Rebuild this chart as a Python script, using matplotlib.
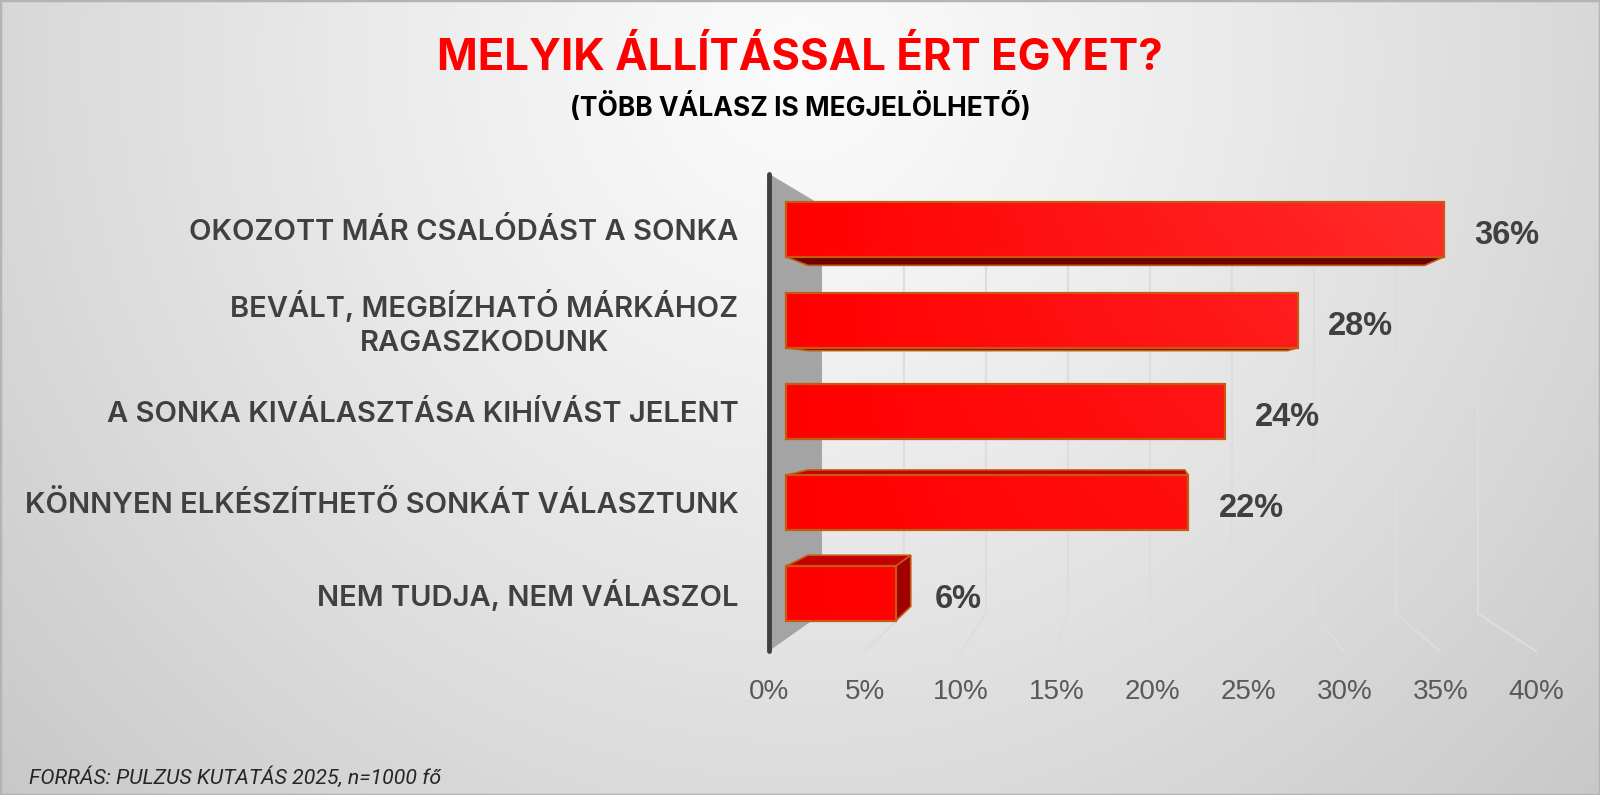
import matplotlib.pyplot as plt
import numpy as np
from matplotlib.patches import Polygon, Rectangle

# data
categories = ['OKOZOTT MÁR CSALÓDÁST A SONKA',
              'BEVÁLT, MEGBÍZHATÓ MÁRKÁHOZ\nRAGASZKODUNK',
              'A SONKA KIVÁLASZTÁSA KIHÍVÁST JELENT',
              'KÖNNYEN ELKÉSZÍTHETŐ SONKÁT VÁLASZTUNK',
              'NEM TUDJA, NEM VÁLASZOL']
values = [36, 28, 24, 22, 6]
ticks = [0, 5, 10, 15, 20, 25, 30, 35, 40]
tick_labels = [f'{t}%' for t in ticks]

W, H = 1600, 795
fig = plt.figure(figsize=(16, 7.95), dpi=100)

# soft radial grey background
bg = fig.add_axes([0, 0, 1, 1], zorder=0)
yy, xx = np.mgrid[0:H, 0:W]
r = np.hypot(xx - 800, yy - 60) / 1000
g = np.clip((251 - 46 * r ** 1.2) / 255, 0, 1)
bg.imshow(np.dstack([g, g, g]), extent=[0, 1, 0, 1], aspect='auto', origin='upper')
bg.add_patch(Rectangle((0, 0), 1, 1, transform=bg.transAxes, fill=False,
                       ec='#b4b4b4', lw=2.5))
bg.set_xlim(0, 1)
bg.set_ylim(0, 1)
bg.axis('off')

# main axes: x in percent (front face of bars), y in category rows
ax = fig.add_axes([0, 0, 1, 1], zorder=1)
ax.patch.set_alpha(0)
px_pct, x0 = 18.28, 786
row, y0 = 91, 229.5
ax.set_xlim(-x0 / px_pct, (W - x0) / px_pct)
ax.set_ylim((H - y0) / row, -y0 / row)
ax.axis('off')

# simple perspective: vanishing point and depth factors
vx, vy = 19.1, 1.79
k_back, k_wall, k_front = 0.937, 0.897, 1.05


def proj(x, y, k):
    return vx + (x - vx) * k, vy + (y - vy) * k


top, floor = -0.5, len(categories) - 0.5

# side wall, back wall grid and floor lines
side = [proj(0, top, k_front), proj(0, top, k_wall),
        proj(0, floor, k_wall), proj(0, floor, k_front)]
ax.add_patch(Polygon(side, closed=True, fc='#a4a4a4', ec='none', zorder=1))
for t in ticks[1:]:
    xs, ys = zip(proj(t, top, k_wall), proj(t, floor, k_wall), proj(t, floor, k_front))
    ax.plot(xs, ys, color='#dddddd', lw=1.5, zorder=1, solid_capstyle='round')
xs, ys = zip(proj(0, top, k_front), proj(0, floor, k_front))
ax.plot(xs, ys, color='#404040', lw=3.5, solid_capstyle='round', zorder=2)

for t, lab in zip(ticks, tick_labels):
    x, _ = proj(t, floor, k_front)
    ax.text(x, floor + 0.58, lab, ha='center', va='center', fontsize=20,
            color='#595959', family='Liberation Sans')

# bars
h = 0.6
edge = '#c55a11'
for i, v in enumerate(values):
    yt, yb = i - h / 2, i + h / 2
    if yb < vy:
        face = [proj(0, yb, 1), proj(v, yb, 1), proj(v, yb, k_back), proj(0, yb, k_back)]
        ax.add_patch(Polygon(face, fc='#6e0000', ec=edge, lw=1.2, zorder=3))
    if yt > vy:
        face = [proj(0, yt, 1), proj(v, yt, 1), proj(v, yt, k_back), proj(0, yt, k_back)]
        ax.add_patch(Polygon(face, fc='#c40000', ec=edge, lw=1.2, zorder=3))
    if v < vx:
        face = [proj(v, yt, 1), proj(v, yt, k_back), proj(v, yb, k_back), proj(v, yb, 1)]
        ax.add_patch(Polygon(face, fc='#a00000', ec=edge, lw=1.2, zorder=3))

bars = ax.barh(range(len(values)), values, height=h, color='none',
               edgecolor=edge, linewidth=1.6, zorder=5)

# light gradient on the front faces
gx, gy = np.meshgrid(np.linspace(0, 1, 300), np.linspace(0, 1, 60))
t = 0.2 * gx * (1 - 0.7 * gy)
grad = np.dstack([np.ones_like(t), t, t])
for b in bars:
    im = ax.imshow(grad, extent=[0, 40, floor, top], aspect='auto',
                   origin='upper', zorder=4)
    im.set_clip_path(b)
ax.set_xlim(-x0 / px_pct, (W - x0) / px_pct)
ax.set_ylim((H - y0) / row, -y0 / row)

for i, v in enumerate(values):
    ax.text(v + 3.45, i + 0.07, f'{v}%', ha='center', va='center', fontsize=23.5,
            fontweight='bold', color='#404040', family='Liberation Sans')

for i, c in enumerate(categories):
    ax.text(-2.6, i + 0.03, c, ha='right', va='center', multialignment='center',
            fontsize=21, fontweight='semibold', color='#404040', family='Inter',
            linespacing=1.35)

fig.text(0.5, 1 - 59 / H, 'MELYIK ÁLLÍTÁSSAL ÉRT EGYET?', ha='center', va='center',
         fontsize=31.5, fontweight='bold', color='#ff0000', family='Inter')
fig.text(0.5, 1 - 107 / H, '(TÖBB VÁLASZ IS MEGJELÖLHETŐ)', ha='center', va='center',
         fontsize=19, fontweight='bold', color='black', family='Inter')
fig.text(29 / W, 1 - 777 / H, 'FORRÁS: PULZUS KUTATÁS 2025, n=1000 fő', ha='left',
         va='center', fontsize=15.3, style='italic', color='#262626', family='Roboto')

fig.savefig('out.png', dpi=100)
